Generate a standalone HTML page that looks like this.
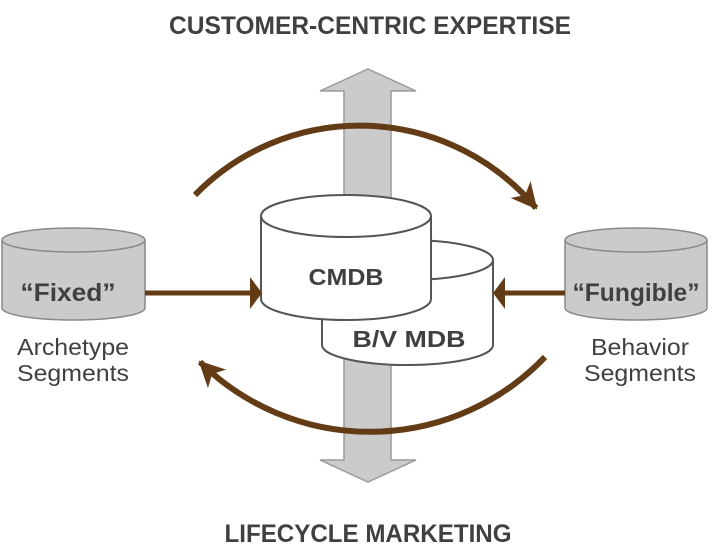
<!DOCTYPE html>
<html><head><meta charset="utf-8"><style>
html,body{margin:0;padding:0;background:#fff;}
svg{display:block;}
text{font-family:"Liberation Sans",sans-serif;fill:#404040;}
</style></head><body>
<svg width="720" height="554" viewBox="0 0 720 554">
<defs>
<marker id="ah" markerUnits="userSpaceOnUse" markerWidth="28" markerHeight="28" refX="24" refY="13" orient="auto">
<path d="M0,0 L26,13 L0,26 L7,13 Z" fill="#633c16"/>
</marker>
</defs>
<!-- vertical gray double arrow -->
<polygon points="368,69 416,91 391,91 391,460 416,460 368,482 320,460 344,460 344,91 320,91" fill="#cbcbcb" stroke="#9a9a9a" stroke-width="1.5"/>
<!-- titles -->
<text x="370" y="34" text-anchor="middle" font-size="25" font-weight="bold" textLength="402" lengthAdjust="spacingAndGlyphs">CUSTOMER-CENTRIC EXPERTISE</text>
<text x="368" y="542" text-anchor="middle" font-size="25" font-weight="bold" textLength="287" lengthAdjust="spacingAndGlyphs">LIFECYCLE MARKETING</text>
<!-- arcs -->
<path d="M195,195 A230,230 0 0 1 536,208" fill="none" stroke="#633c16" stroke-width="6" marker-end="url(#ah)"/>
<path d="M545,357 A242,242 0 0 1 200,362" fill="none" stroke="#633c16" stroke-width="6" marker-end="url(#ah)"/>
<!-- B/V MDB cylinder -->
<path d="M322,260 L322,345 A85.5,20 0 0 0 493,345 L493,260 A85.5,20 0 0 0 322,260 Z" fill="#fff" stroke="#555" stroke-width="2"/>
<path d="M322,260 A85.5,20 0 0 0 493,260" fill="none" stroke="#555" stroke-width="2"/>
<!-- CMDB cylinder -->
<path d="M261,216 L261,299 A85,21 0 0 0 431,299 L431,216 A85,21 0 0 0 261,216 Z" fill="#fff" stroke="#555" stroke-width="2"/>
<path d="M261,216 A85,21 0 0 0 431,216" fill="none" stroke="#555" stroke-width="2"/>
<text x="346" y="285" text-anchor="middle" font-size="23" font-weight="bold" textLength="75" lengthAdjust="spacingAndGlyphs">CMDB</text>
<text x="409" y="347" text-anchor="middle" font-size="23" font-weight="bold" textLength="113" lengthAdjust="spacingAndGlyphs">B/V MDB</text>
<!-- side cylinders -->
<path d="M2,240 L2,308 A71.5,12 0 0 0 145,308 L145,240 A71.5,12 0 0 0 2,240 Z" fill="#cbcbcb" stroke="#888" stroke-width="1.5"/>
<path d="M2,240 A71.5,12 0 0 0 145,240" fill="none" stroke="#888" stroke-width="1.5"/>
<path d="M565,240 L565,308 A71,12 0 0 0 707,308 L707,240 A71,12 0 0 0 565,240 Z" fill="#cbcbcb" stroke="#888" stroke-width="1.5"/>
<path d="M565,240 A71,12 0 0 0 707,240" fill="none" stroke="#888" stroke-width="1.5"/>
<text x="68" y="301" text-anchor="middle" font-size="25" font-weight="bold" textLength="95" lengthAdjust="spacingAndGlyphs">“Fixed”</text>
<text x="636" y="301" text-anchor="middle" font-size="25" font-weight="bold" textLength="127" lengthAdjust="spacingAndGlyphs">“Fungible”</text>
<text x="73" y="355" text-anchor="middle" font-size="23" textLength="112" lengthAdjust="spacingAndGlyphs">Archetype</text>
<text x="73" y="381" text-anchor="middle" font-size="23" textLength="112" lengthAdjust="spacingAndGlyphs">Segments</text>
<text x="640" y="355" text-anchor="middle" font-size="23" textLength="98" lengthAdjust="spacingAndGlyphs">Behavior</text>
<text x="640" y="381" text-anchor="middle" font-size="23" textLength="112" lengthAdjust="spacingAndGlyphs">Segments</text>
<!-- horizontal arrows -->
<line x1="145" y1="293" x2="250" y2="293" stroke="#633c16" stroke-width="5"/>
<polygon points="262,293 250,277 250,309" fill="#633c16"/>
<line x1="565" y1="293" x2="505" y2="293" stroke="#633c16" stroke-width="5"/>
<polygon points="493,293 505,277 505,309" fill="#633c16"/>
</svg>
</body></html>
